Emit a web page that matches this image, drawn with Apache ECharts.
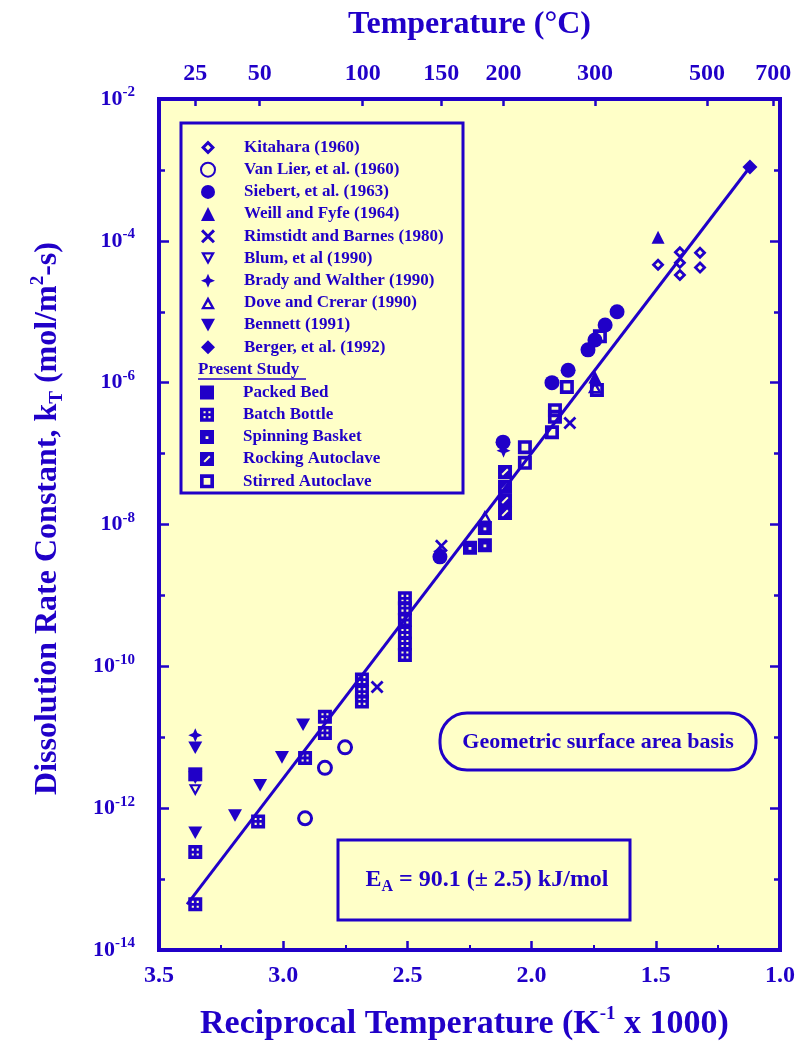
<!DOCTYPE html>
<html>
<head>
<meta charset="utf-8">
<title>Quartz dissolution rate constant vs reciprocal temperature</title>
<script src="https://cdn.jsdelivr.net/npm/echarts@6/dist/echarts.min.js"></script>
<style>
  html, body { margin: 0; padding: 0; background: #ffffff; }
  #chart { width: 801px; height: 1046px; }
</style>
</head>
<body>
<div id="chart"></div>
<script>
// ---- tick labels ----
const recipTicks = [3.5, 3.0, 2.5, 2.0, 1.5, 1.0];            // 1000/T, K^-1
const tempTicks = [25, 50, 100, 150, 200, 300, 500, 700];     // °C, top axis
const rateLabelDecades = [-14, -12, -10, -8, -6, -4, -2];     // labelled decades of k
const rateMinorDecades = [-13, -11, -9, -7, -5, -3];          // unlabelled decades

// ---- literature data: [1000/T (K^-1), k (mol/m2-s)] ----
const kitahara = [[1.403, 6.9e-5], [1.403, 4.9e-5], [1.403, 3.3e-5], [1.322, 6.8e-5], [1.322, 4.2e-5], [1.491, 4.6e-5]];
const vanLier = [[2.751, 7.2e-12], [2.832, 3.7e-12], [2.912, 7.2e-13]];
const siebert = [[1.656, 1.0e-5], [1.704, 6.5e-6], [1.745, 4.0e-6], [1.773, 2.9e-6], [1.853, 1.5e-6], [1.918, 1.0e-6], [2.115, 1.45e-7], [2.369, 3.5e-9]];
const weillFyfe = [[1.491, 1.12e-4], [1.745, 1.2e-6]];
const rimstidtBarnes = [[2.622, 5.1e-11], [1.846, 2.7e-7], [2.363, 5.0e-9]];
const blum = [[3.354, 1.8e-12]];
const bradyWalther = [[3.354, 1.07e-11], [2.369, 4.2e-9], [2.113, 1.1e-7]];
const doveCrerar = [[1.745, 8.7e-7], [2.188, 1.3e-8]];
const bennett = [[3.354, 7.1e-12], [3.354, 2.7e-12], [3.354, 4.5e-13], [3.194, 7.9e-13], [3.093, 2.1e-12], [3.005, 5.2e-12], [2.920, 1.5e-11]];
const berger = [[1.121, 1.1e-3]];

// ---- present study ----
const packedBed = [[3.354, 3.0e-12]];
const batchBottle = [[3.354, 2.4e-13], [3.354, 4.4e-14], [3.101, 6.5e-13], [2.912, 5.1e-12], [2.832, 1.95e-11], [2.832, 1.15e-11],
  [2.683, 6.5e-11], [2.683, 4.4e-11], [2.683, 3.2e-11], [2.510, 9.1e-10], [2.510, 6.6e-10], [2.510, 4.5e-10], [2.510, 3.0e-10],
  [2.510, 2.1e-10], [2.510, 1.45e-10]];
const spinningBasket = [[2.188, 8.9e-9], [2.188, 5.1e-9], [2.248, 4.7e-9]];
const rockingAutoclave = [[2.107, 5.5e-8], [2.107, 3.4e-8], [2.107, 2.2e-8], [2.107, 1.45e-8]];
const stirredAutoclave = [[2.027, 1.23e-7], [2.027, 7.4e-8], [1.906, 3.3e-7], [1.918, 2.0e-7], [1.906, 4.1e-7], [1.858, 8.7e-7], [1.737, 7.9e-7], [1.725, 4.5e-6]];

// Arrhenius fit (end points)
const fitLine = [[3.387, 4.4e-14], [1.121, 1.1e-3]];

// ---- styling ----
const INK = '#2000c8';
const PAPER = '#ffffc8';
const FONT = '"Liberation Serif", "DejaVu Serif", serif';

// marker outlines; inner sub-paths wound the other way punch holes
const SYM = {
  diamondRing: 'path://M5,0 L10,5 L5,10 L0,5 Z M5,3 L3,5 L5,7 L7,5 Z',
  cross: 'path://M0,1.5 L1.5,0 L5,3.5 L8.5,0 L10,1.5 L6.5,5 L10,8.5 L8.5,10 L5,6.5 L1.5,10 L0,8.5 L3.5,5 Z',
  star4: 'path://M5,0 L6.5,3.5 L10,5 L6.5,6.5 L5,10 L3.5,6.5 L0,5 L3.5,3.5 Z',
  triDown: 'path://M0,0 L10,0 L5,9 Z',
  triDownOpen: 'path://M0,0 L10,0 L5,9 Z M2.8,1.6 L5,5.6 L7.2,1.6 Z',
  triUpOpen: 'path://M5,0 L10,9 L0,9 Z M5,3.6 L2.8,7.4 L7.2,7.4 Z',
  sqDots: 'path://M0,0 L10,0 L10,10 L0,10 Z M2.5,2.5 L2.5,4 L4,4 L4,2.5 Z M6,2.5 L6,4 L7.5,4 L7.5,2.5 Z M2.5,6 L2.5,7.5 L4,7.5 L4,6 Z M6,6 L6,7.5 L7.5,7.5 L7.5,6 Z',
  sqDot: 'path://M0,0 L10,0 L10,10 L0,10 Z M4,4.5 L4,6.5 L6,6.5 L6,4.5 Z',
  sqSlash: 'path://M0,0 L10,0 L10,10 L0,10 Z M2.5,6.5 L3.5,7.5 L7.5,3.5 L6.5,2.5 Z',
  sqOpen: 'path://M0,0 L10,0 L10,10 L0,10 Z M2.6,2.6 L2.6,7.4 L7.4,7.4 L7.4,2.6 Z'
};

const literature = [
  { name: 'Kitahara (1960)', data: kitahara, symbol: SYM.diamondRing, size: 13 },
  { name: 'Van Lier, et al. (1960)', data: vanLier, symbol: 'circle', size: 13, open: true },
  { name: 'Siebert, et al. (1963)', data: siebert, symbol: 'circle', size: 15 },
  { name: 'Weill and Fyfe (1964)', data: weillFyfe, symbol: 'triangle', size: 13 },
  { name: 'Rimstidt and Barnes (1980)', data: rimstidtBarnes, symbol: SYM.cross, size: 13 },
  { name: 'Blum, et al (1990)', data: blum, symbol: SYM.triDownOpen, size: 13 },
  { name: 'Brady and Walther (1990)', data: bradyWalther, symbol: SYM.star4, size: 14 },
  { name: 'Dove and Crerar (1990)', data: doveCrerar, symbol: SYM.triUpOpen, size: 14 },
  { name: 'Bennett (1991)', data: bennett, symbol: SYM.triDown, size: 14 },
  { name: 'Berger, et al. (1992)', data: berger, symbol: 'diamond', size: 15 }
];
const present = [
  { name: 'Packed Bed', data: packedBed, symbol: 'rect', size: 14 },
  { name: 'Batch Bottle', data: batchBottle, symbol: SYM.sqDots, size: 14 },
  { name: 'Spinning Basket', data: spinningBasket, symbol: SYM.sqDot, size: 14 },
  { name: 'Rocking Autoclave', data: rockingAutoclave, symbol: SYM.sqSlash, size: 14 },
  { name: 'Stirred Autoclave', data: stirredAutoclave, symbol: SYM.sqOpen, size: 14 }
];

function scatterSeries(d) {
  return {
    type: 'scatter', name: d.name, data: d.data,
    xAxisIndex: 0, yAxisIndex: 0,
    symbol: d.symbol, symbolSize: d.size, symbolKeepAspect: true,
    itemStyle: d.open
      ? { color: PAPER, borderColor: INK, borderWidth: 3, opacity: 1 }
      : { color: INK, opacity: 1 },
    z: 3
  };
}

const boldText = { color: INK, fontFamily: FONT, fontWeight: 'bold' };
const tickLine = { color: INK, width: 2.5 };

const rateLabelValues = rateLabelDecades.map(e => Math.pow(10, e));
const rateMinorValues = rateMinorDecades.map(e => Math.pow(10, e));
const tempPositions = tempTicks.map(t => 1000 / (t + 273.15));

const logAxis = {
  type: 'log', logBase: 10, min: 1e-14, max: 1e-2,
  axisLine: { show: false }, splitLine: { show: false }
};

const legendText = Object.assign({}, boldText, { fontSize: 17, padding: [0, 0, 0, 24] });

const option = {
  animation: false,
  backgroundColor: '#ffffff',
  textStyle: { fontFamily: FONT },
  grid: {
    left: 159, right: 21, top: 99, bottom: 96,
    outerBoundsMode: 'none', containLabel: false,
    show: true, backgroundColor: PAPER, borderColor: INK, borderWidth: 4
  },
  legend: [
    {
      data: literature.map(d => d.name),
      orient: 'vertical', left: 200, top: 139, padding: 0,
      itemWidth: 14, itemHeight: 14, itemGap: 5.2,
      textStyle: legendText, selectedMode: false
    },
    {
      data: present.map(d => d.name),
      orient: 'vertical', left: 200, top: 384, padding: 0,
      itemWidth: 14, itemHeight: 14, itemGap: 5.2,
      textStyle: legendText, selectedMode: false
    }
  ],
  xAxis: [
    {
      type: 'value', position: 'bottom', min: 1.0, max: 3.5, interval: 0.5, inverse: true,
      axisLine: { show: false }, splitLine: { show: false },
      axisTick: { inside: true, length: 9, lineStyle: tickLine },
      minorTick: { show: true, splitNumber: 2, length: 5, lineStyle: { color: INK, width: 2 } },
      axisLabel: Object.assign({}, boldText, {
        fontSize: 24, margin: 14, customValues: recipTicks,
        formatter: v => v.toFixed(1)
      }),
      name: 'Reciprocal Temperature (K{sup|-1} x 1000)',
      nameLocation: 'middle', nameGap: 55,
      nameTextStyle: Object.assign({}, boldText, {
        fontSize: 34, lineHeight: 38, padding: [0, 10, 0, 0],
        rich: { sup: Object.assign({}, boldText, { fontSize: 19, lineHeight: 19, verticalAlign: 'top' }) }
      })
    },
    {
      type: 'value', position: 'top', min: 1.0, max: 3.5, inverse: true,
      axisLine: { show: false }, splitLine: { show: false },
      axisTick: { inside: true, length: 7, customValues: tempPositions, lineStyle: tickLine },
      axisLabel: Object.assign({}, boldText, {
        fontSize: 24, margin: 13, customValues: tempPositions,
        formatter: v => String(Math.round(1000 / v - 273.15))
      }),
      name: 'Temperature (°C)', nameLocation: 'middle', nameGap: 58,
      nameTextStyle: Object.assign({}, boldText, { fontSize: 32 })
    }
  ],
  yAxis: [
    Object.assign({}, logAxis, {
      position: 'left',
      axisTick: { inside: true, length: 10, customValues: rateLabelValues, lineStyle: tickLine },
      axisLabel: {
        margin: 24, customValues: rateLabelValues,
        formatter: v => '{b|10}{s|' + Math.round(Math.log10(v)) + '}',
        rich: {
          b: Object.assign({}, boldText, { fontSize: 22, lineHeight: 28 }),
          s: Object.assign({}, boldText, { fontSize: 15, lineHeight: 15, verticalAlign: 'top' })
        }
      },
      name: 'Dissolution Rate Constant, k{sub|T} (mol/m{sup|2}-s)',
      nameLocation: 'middle', nameGap: 92,
      nameTextStyle: Object.assign({}, boldText, {
        fontSize: 32, lineHeight: 38, padding: [0, 0, 0, 12],
        rich: {
          sub: Object.assign({}, boldText, { fontSize: 19, lineHeight: 19, verticalAlign: 'bottom' }),
          sup: Object.assign({}, boldText, { fontSize: 19, lineHeight: 19, verticalAlign: 'top' })
        }
      })
    }),
    Object.assign({}, logAxis, {
      position: 'left',
      axisTick: { inside: true, length: 6, customValues: rateMinorValues, lineStyle: tickLine },
      axisLabel: { show: false }
    }),
    Object.assign({}, logAxis, {
      position: 'right',
      axisTick: { inside: true, length: 10, customValues: rateLabelValues, lineStyle: tickLine },
      axisLabel: { show: false }
    }),
    Object.assign({}, logAxis, {
      position: 'right',
      axisTick: { inside: true, length: 6, customValues: rateMinorValues, lineStyle: tickLine },
      axisLabel: { show: false }
    })
  ],
  graphic: [
    // legend frame
    { type: 'rect', shape: { x: 181, y: 123, width: 282, height: 370 },
      style: { fill: null, stroke: INK, lineWidth: 3 }, z: 10 },
    // legend sub-heading
    { type: 'text', x: 198, y: 370,
      style: { text: 'Present Study', fill: INK, font: 'bold 17px ' + FONT, verticalAlign: 'middle' }, z: 10 },
    { type: 'line', shape: { x1: 198, y1: 379, x2: 306, y2: 379 }, style: { stroke: INK, lineWidth: 1.5 }, z: 10 },
    // surface-area note
    { type: 'rect', shape: { x: 440, y: 713, width: 316, height: 57, r: 27 },
      style: { fill: null, stroke: INK, lineWidth: 3 }, z: 10 },
    { type: 'text', x: 598, y: 742,
      style: { text: 'Geometric surface area basis', fill: INK, font: 'bold 22px ' + FONT, align: 'center', verticalAlign: 'middle' }, z: 10 },
    // activation energy
    { type: 'rect', shape: { x: 338, y: 840, width: 292, height: 80 },
      style: { fill: null, stroke: INK, lineWidth: 3 }, z: 10 },
    { type: 'text', x: 487, y: 880,
      style: {
        text: '{e|E}{a|A}{t| = 90.1 (± 2.5) kJ/mol}', align: 'center', verticalAlign: 'middle',
        rich: {
          e: { fill: INK, font: 'bold 24px ' + FONT, lineHeight: 30 },
          a: { fill: INK, font: 'bold 16px ' + FONT, lineHeight: 14, verticalAlign: 'bottom' },
          t: { fill: INK, font: 'bold 24px ' + FONT, lineHeight: 30 }
        }
      }, z: 10 }
  ],
  series: [
    {
      type: 'line', name: 'fit', data: fitLine, xAxisIndex: 0, yAxisIndex: 0,
      showSymbol: false, symbol: 'none', silent: true,
      lineStyle: { color: INK, width: 3 }, z: 2
    }
  ].concat(literature.map(scatterSeries), present.map(scatterSeries))
};

const chart = echarts.init(document.getElementById('chart'), null, { renderer: 'canvas' });
chart.setOption(option);
</script>
</body>
</html>
